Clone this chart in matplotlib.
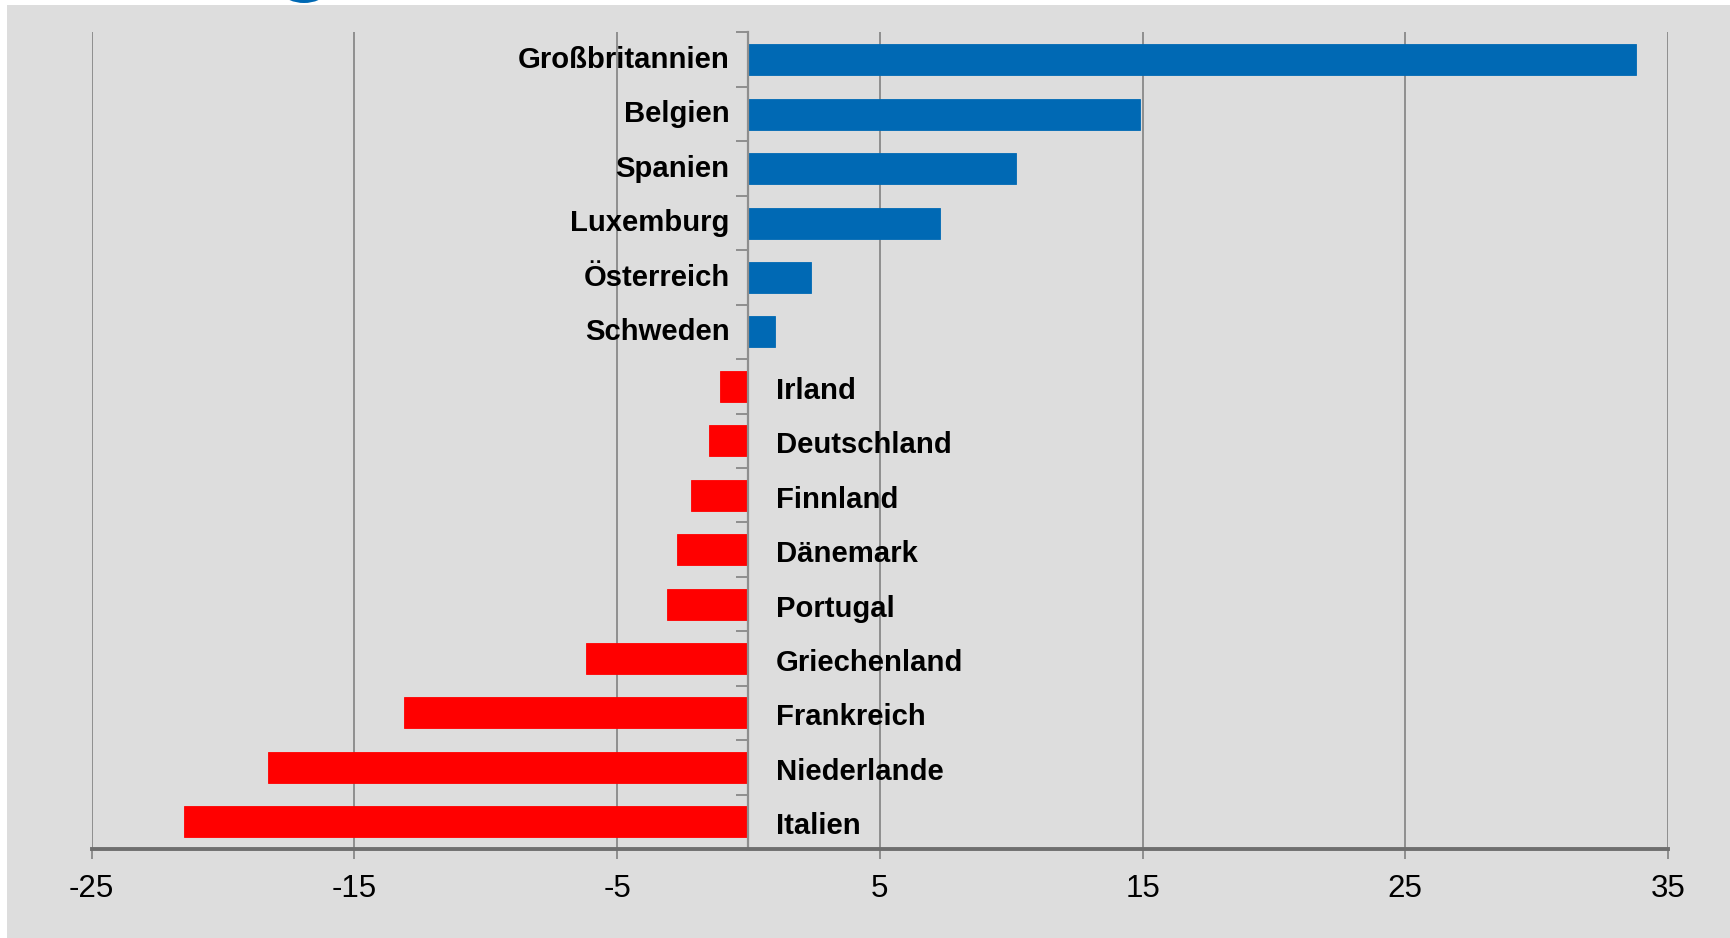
import matplotlib
matplotlib.use("Agg")
import matplotlib.pyplot as plt
from matplotlib.patches import Rectangle, Ellipse

countries = ["Großbritannien", "Belgien", "Spanien", "Luxemburg", "Österreich", "Schweden",
             "Irland", "Deutschland", "Finnland", "Dänemark", "Portugal", "Griechenland",
             "Frankreich", "Niederlande", "Italien"]
values = [33.8, 14.9, 10.2, 7.3, 2.4, 1.0,
          -1.1, -1.5, -2.2, -2.7, -3.1, -6.2,
          -13.1, -18.3, -21.5]
xticks = [-25, -15, -5, 5, 15, 25, 35]

BLUE = "#0069B4"
RED = "#FF0000"
GRID = "#8E8E8E"
BG = "#DDDDDD"

W, H = 1731, 938
fig = plt.figure(figsize=(W / 100, H / 100), dpi=100, facecolor="white")
# grey panel
fig.patches.append(Rectangle((7 / W, 0), 1 - 7 / W, 1 - 5 / H, transform=fig.transFigure,
                             facecolor=BG, edgecolor="none", zorder=-10))
# cut-off logo arc at top
fig.patches.append(Ellipse((304 / W, 1 + 35 / H), 76 / W, 76 / H, transform=fig.transFigure,
                           facecolor=BLUE, edgecolor="none", zorder=-9))

ax = fig.add_axes([91.6 / W, 1 - 849 / H, (1668 - 91.6) / W, (849 - 32.5) / H])
ax.set_facecolor("none")
ax.set_zorder(1)

n = len(countries)
ypos = list(range(n))
colors = [BLUE if v >= 0 else RED for v in values]
ax.barh(ypos, values, height=0.57, color=colors, edgecolor=colors, linewidth=0.6, zorder=3)

ax.set_xlim(-25, 35)
ax.set_ylim(n - 0.5, -0.5)
ax.set_xticks(xticks)
ax.set_xticklabels([str(t) for t in xticks], fontsize=22.5, family="Liberation Sans")
ax.tick_params(axis="x", direction="out", length=7, width=1.4, color=GRID, pad=11)

ax.grid(axis="x", color=GRID, linewidth=1.4, zorder=1)
ax.set_axisbelow(True)

for s in ["top", "right"]:
    ax.spines[s].set_visible(False)
ax.spines["bottom"].set_color("#6E6E6E")
ax.spines["bottom"].set_linewidth(2.8)
ax.spines["bottom"].set_zorder(4)
ax.spines["left"].set_position(("data", 0))
ax.spines["left"].set_color(GRID)
ax.spines["left"].set_linewidth(1.6)
ax.spines["left"].set_zorder(4)

ax.set_yticks([])
ax.set_yticks([i - 0.5 for i in range(n + 1)], minor=True)
ax.tick_params(axis="y", which="minor", direction="out", length=8.5, width=1.4, color=GRID,
               labelleft=False)

FS = 21.1
cap = 0.716 * FS
for i, (c, v) in enumerate(zip(countries, values)):
    if v >= 0:
        ax.annotate(c, (0, i), xytext=(-13.5, -cap / 2 + 1.6), textcoords="offset points",
                    ha="right", va="baseline", fontsize=FS, fontweight="bold",
                    family="Liberation Sans", zorder=5)
    else:
        ax.annotate(c, (0, i), xytext=(20, -cap / 2 - 1.5), textcoords="offset points",
                    ha="left", va="baseline", fontsize=FS, fontweight="bold",
                    family="Liberation Sans", zorder=5)

fig.savefig("out.png", dpi=100, facecolor="white")
